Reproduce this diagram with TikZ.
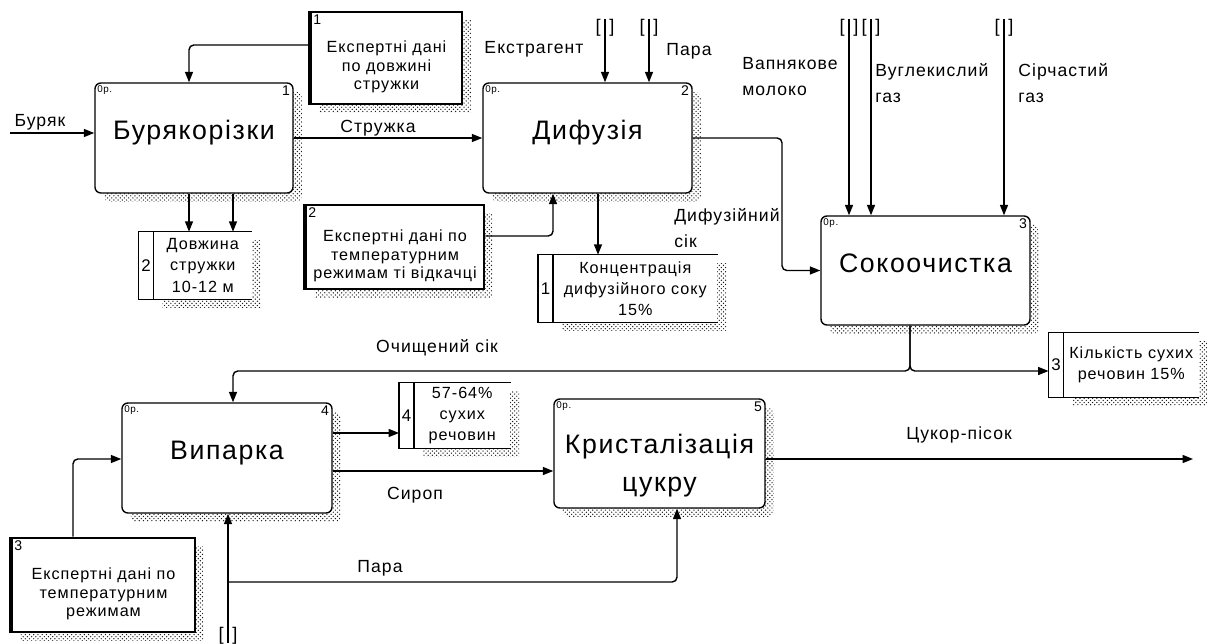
\documentclass[tikz,border=0pt]{standalone}
\usepackage{fontspec}
\setmainfont[LetterSpace=6]{Liberation Sans}
\usetikzlibrary{arrows.meta, shadows, patterns, positioning}

\tikzset{
  hatch/.style={drop shadow={shadow xshift=0.22cm, shadow yshift=-0.22cm, opacity=1, pattern=crosshatch dots, pattern color=black!90}},
  tag/.style={font=\fontsize{7}{8}\selectfont, inner sep=2pt},
  num/.style={font=\fontsize{10}{11}\selectfont, inner sep=2.5pt},
  proc/.style={draw, fill=white, rounded corners=0.15cm, line width=1pt, hatch,
    minimum width=5.225cm, minimum height=2.75cm, inner sep=0pt, align=center,
    font=\fontsize{19}{27}\selectfont, text height=0.5cm, text depth=0.42cm,
    label={[tag, anchor=north west]north west:0р.},
    label={[num, anchor=north east]north east:#1}},
  expert/.style={draw, fill=white, line width=1.9pt, hatch, inner sep=0pt, align=center,
    font=\fontsize{11.5}{13.2}\selectfont, text height=1.68cm, text depth=0.085cm,
    label={[num, anchor=north west]north west:#1}},
  strip/.style={fill=white, inner sep=0pt, minimum width=0.36cm, font=\fontsize{12}{13}\selectfont},
  store/.style={fill=white, hatch, inner sep=0pt, align=center, font=\fontsize{11.5}{15}\selectfont},
  flow/.style={->, line width=1pt, rounded corners=0.12cm},
  lbl/.style={font=\fontsize{12.5}{18.5}\selectfont, align=left, inner sep=0pt},
  tun/.style={font=\fontsize{13}{14}\selectfont, inner sep=0pt},
}

\begin{document}
\begin{tikzpicture}[x=0.025cm, y=-0.025cm, >={Triangle[length=0.26cm, width=0.2cm]}]
\useasboundingbox (0,0) rectangle (1207,643);

% Блоки
\node[proc=1, minimum width=4.95cm] (rizka) at (194,138) {Бурякорізки};
\node[proc=2] (dyfuz) at (587.5,138) {Дифузія};
\node[proc=3, minimum height=2.725cm] (ochyst) at (925.5,270.5) {Сокоочистка};
\node[proc=4, minimum width=5.25cm] (vyparka) at (227,458) {Випарка};
\node[proc=5, minimum width=5.275cm, minimum height=2.725cm, text height=2.06cm, text depth=0.14cm] (kryst) at (659.5,453.5) {Кристалізація\\цукру};

% Експертні дані
\node[expert=1, minimum width=3.775cm, minimum height=2.3cm] (dani1) at (386.5,58) {Експертні дані\\по довжині\\стружки};
\node[expert=2, minimum width=4.45cm, minimum height=2.1cm] (dani2) at (395,247) {Експертні дані по\\температурним\\режимам ті відкачці};
\node[expert=3, minimum width=4.575cm, minimum height=2.35cm] (dani3) at (103.5,585) {Експертні дані по\\температурним\\режимам};
\foreach \d in {dani1, dani2, dani3}
  \draw[line width=3pt] (\d.south west) -- (\d.north west);

% Сховища даних
\node[strip, minimum height=1.675cm] (n2) at (146,265.5) {2};
\node[store, right=0pt of n2, minimum width=2.45cm, minimum height=1.675cm] (dovzh) {Довжина\\стружки\\10-12 м};
\node[strip, minimum height=1.675cm] (n1) at (545.5,288.5) {1};
\node[store, right=0pt of n1, minimum width=4.1cm, minimum height=1.675cm] (konts) {Концентрація\\дифузійного соку\\15\%};
\node[strip, minimum height=1.6cm] (n3) at (1056,365) {3};
\node[store, right=0pt of n3, minimum width=3.375cm, minimum height=1.6cm] (kilk) {Кількість сухих\\речовин 15\%};
\node[strip, minimum height=1.625cm] (n4) at (406.5,415.5) {4};
\node[store, right=0pt of n4, minimum width=2.4cm, minimum height=1.625cm] (sukh) {57-64\%\\сухих\\речовин};
\foreach \n/\s in {n2/dovzh, n1/konts, n3/kilk, n4/sukh}
  \draw[line width=1pt] (\s.north east) -- (\n.north west) -- (\n.south west) -- (\s.south east)
    (\n.north east) -- (\n.south east);

% Тунелі
\node[tun] (tun1) at (605,27.5) {[\hspace{0.22cm}]};
\node[tun] (tun2) at (649,27.5) {[\hspace{0.22cm}]};
\node[tun] (tun3) at (849,27.5) {[\hspace{0.22cm}]};
\node[tun] (tun4) at (871,27.5) {[\hspace{0.22cm}]};
\node[tun] (tun5) at (1004,27.5) {[\hspace{0.22cm}]};
\node[tun] (tun6) at (228,636) {[\hspace{0.22cm}]};
\coordinate (burak) at (10,133);
\coordinate (parabot) at (228,643);
\coordinate (cukor) at (1193,459);

% Стрілки
\draw[flow] (burak) -- (rizka.west |- burak);
\draw[flow] (rizka) -- (dyfuz);
\draw[flow] (dani1.west |- 0,45) -| (rizka.north -| 189,0);
\draw[flow] (rizka.south -| 189,0) -- (dovzh.north -| 189,0);
\draw[flow] (rizka.south -| 233,0) -- (dovzh.north -| 233,0);
\draw[flow] (tun1.north) -- (dyfuz.north -| tun1.north);
\draw[flow] (tun2.north) -- (dyfuz.north -| tun2.north);
\draw[flow] (dani2.east |- 0,236) -| (dyfuz.south -| 553,0);
\draw[flow] (dyfuz.south -| 598,0) -- (konts.north -| 598,0);
\draw[flow] (dyfuz.east) -| (782,270.5) -- (ochyst.west);
\draw[flow] (tun3.north) -- (ochyst.north -| tun3.north);
\draw[flow] (tun4.north) -- (ochyst.north -| tun4.north);
\draw[flow] (tun5.north) -- (ochyst.north -| tun5.north);
\draw[flow] (ochyst.south -| 910,0) -- (910,371) -| (vyparka.north -| 233,0);
\draw[flow] (ochyst.south -| 910,0) -- (910,371) -- (n3.west |- 0,371);
\draw[flow] (vyparka.east |- 0,433) -- (n4.west |- 0,433);
\draw[flow] (vyparka.east |- 0,471) -- (kryst.west |- 0,471);
\draw[flow] (dani3.north -| 73,0) |- (vyparka.west |- 0,459);
\draw[flow] (parabot) -- (vyparka.south -| parabot);
\draw[flow] (parabot |- 0,582) -| (kryst.south -| 677,0);
\draw[flow] (kryst.east |- cukor) -- (cukor);

% Підписи
\node[lbl] (lburak) at (40,124) {\underline{Буряк}};
\node[lbl] (lstruzh) at (378,128) {Стружка};
\node[lbl] (lekstr) at (534,49) {Екстрагент};
\node[lbl] (lpara1) at (689,51) {Пара};
\node[lbl, anchor=west] (lvapn) at (742,77) {Вапнякове\\молоко};
\node[lbl, anchor=west] (lvugl) at (875,83) {Вуглекислий\\газ};
\node[lbl, anchor=west] (lsirch) at (1018,83) {Сірчастий\\газ};
\node[lbl, anchor=west] (ldyfsik) at (674,228) {Дифузійний\\сік};
\node[lbl] (lochysh) at (437,348) {Очищений сік};
\node[lbl] (lsyrop) at (415,495) {Сироп};
\node[lbl] (lpara2) at (380,568) {Пара};
\node[lbl] (lcukor) at (959,435) {Цукор-пісок};
\end{tikzpicture}
\end{document}
